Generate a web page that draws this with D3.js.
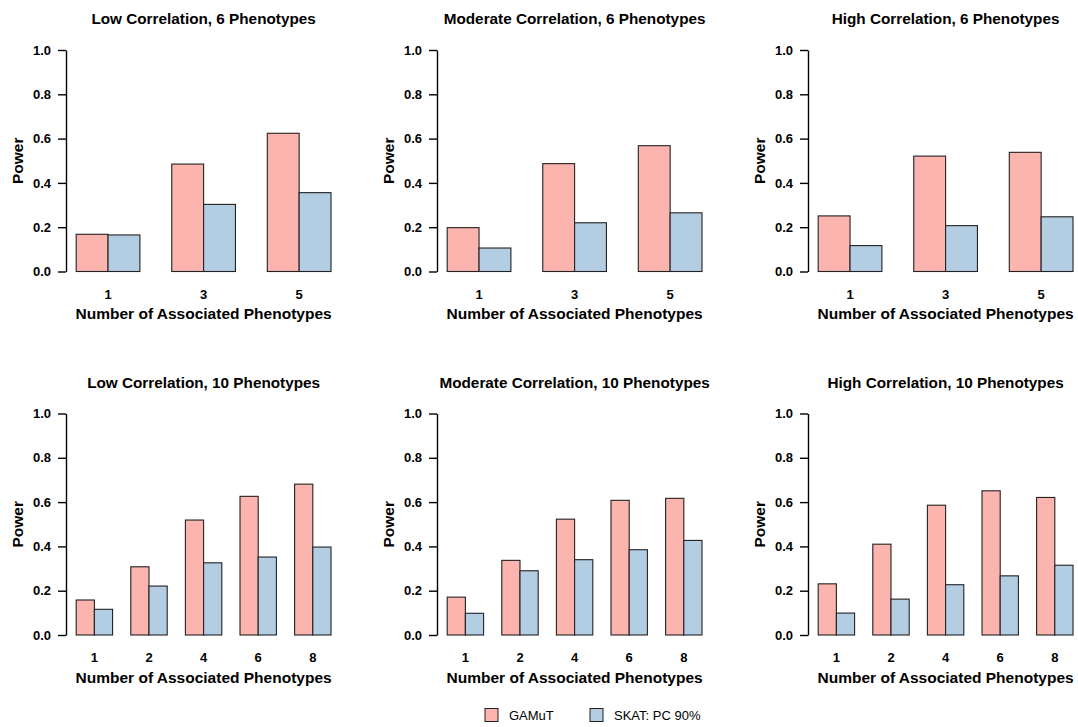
<!DOCTYPE html>
<html>
<head>
<meta charset="utf-8">
<script src="https://cdn.jsdelivr.net/npm/d3@7"></script>
<style>
  html, body { margin: 0; padding: 0; background: #fff; }
  svg { display: block; }
  text { font-family: "Liberation Sans", Arial, Helvetica, sans-serif; fill: #000; }
</style>
</head>
<body>
<svg id="chart" width="1078" height="727"></svg>
<script>
// Number of associated phenotypes on each x axis
const categories6 = ["1", "3", "5"];
const categories10 = ["1", "2", "4", "6", "8"];

// Test methods compared in every panel
const methods = ["GAMuT", "SKAT: PC 90%"];
const methodColors = ["#FBB4AE", "#B3CDE3"];

// Power tick labels on the y axis
const powerTicks = [0, 0.2, 0.4, 0.6, 0.8, 1.0];

// Panel titles, row by row
const titles = [
  "Low Correlation, 6 Phenotypes",
  "Moderate Correlation, 6 Phenotypes",
  "High Correlation, 6 Phenotypes",
  "Low Correlation, 10 Phenotypes",
  "Moderate Correlation, 10 Phenotypes",
  "High Correlation, 10 Phenotypes"
];

// Estimated power, 6 phenotypes
const gamutLow6 = [0.168, 0.485, 0.624];
const skatLow6 = [0.165, 0.303, 0.356];
const gamutMod6 = [0.198, 0.487, 0.568];
const skatMod6 = [0.106, 0.220, 0.265];
const gamutHigh6 = [0.251, 0.521, 0.538];
const skatHigh6 = [0.117, 0.207, 0.247];

// Estimated power, 10 phenotypes
const gamutLow10 = [0.158, 0.308, 0.519, 0.626, 0.681];
const skatLow10 = [0.116, 0.221, 0.326, 0.352, 0.397];
const gamutMod10 = [0.171, 0.337, 0.523, 0.608, 0.617];
const skatMod10 = [0.098, 0.290, 0.340, 0.385, 0.427];
const gamutHigh10 = [0.231, 0.410, 0.586, 0.651, 0.621];
const skatHigh10 = [0.099, 0.162, 0.227, 0.267, 0.315];

const panels = [
  { title: titles[0], cats: categories6, series: [gamutLow6, skatLow6] },
  { title: titles[1], cats: categories6, series: [gamutMod6, skatMod6] },
  { title: titles[2], cats: categories6, series: [gamutHigh6, skatHigh6] },
  { title: titles[3], cats: categories10, series: [gamutLow10, skatLow10] },
  { title: titles[4], cats: categories10, series: [gamutMod10, skatMod10] },
  { title: titles[5], cats: categories10, series: [gamutHigh10, skatHigh10] }
];

// Panel grid geometry
const colLeft = [66, 437, 808];    // x of each y-axis line
const rowZero = [271.5, 635];      // y of power = 0
const plotW = 275.2;
const plotH = 221.5;               // pixels from 0 to 1
const inset = plotW / 27;          // 4% axis extension either side

const FONT = "'Liberation Sans', Arial, Helvetica, sans-serif";
const svg = d3.select("#chart");

panels.forEach((p, i) => {
  const col = i % 3, row = Math.floor(i / 3);
  const x0 = colLeft[col];
  const yZero = rowZero[row];

  const y = d3.scaleLinear().domain([0, 1]).range([yZero, yZero - plotH]);
  const xGroup = d3.scaleBand()
    .domain(p.cats)
    .range([x0 + inset, x0 + plotW - inset])
    .paddingInner(1 / 3)
    .paddingOuter(0);
  const xSeries = d3.scaleBand()
    .domain(d3.range(methods.length))
    .range([0, xGroup.bandwidth()])
    .padding(0);

  const g = svg.append("g");

  // bars
  p.cats.forEach((c, ci) => {
    p.series.forEach((vals, si) => {
      g.append("rect")
        .attr("x", xGroup(c) + xSeries(si))
        .attr("y", y(vals[ci]))
        .attr("width", xSeries.bandwidth())
        .attr("height", y(0) - y(vals[ci]))
        .attr("fill", methodColors[si])
        .attr("stroke", "#222")
        .attr("stroke-width", 1.1);
    });
  });

  // y axis
  const yAxis = d3.axisLeft(y)
    .tickValues(powerTicks)
    .tickFormat(d3.format(".1f"))
    .tickSize(8)
    .tickPadding(7)
    .tickSizeOuter(0);
  const ya = g.append("g").attr("transform", `translate(${x0},0)`).call(yAxis);
  ya.select(".domain").attr("stroke", "#000").attr("stroke-width", 1.4);
  ya.selectAll(".tick line").attr("stroke", "#000").attr("stroke-width", 1.4);
  ya.selectAll(".tick text")
    .attr("font-size", 13)
    .attr("font-weight", "bold")
    .attr("font-family", FONT)
    .attr("fill", "#000");

  // x axis: labels only, centred on each group
  const xAxis = d3.axisBottom(xGroup).tickSize(0).tickPadding(0);
  const xa = g.append("g").attr("transform", `translate(0,${yZero + 18})`).call(xAxis);
  xa.select(".domain").remove();
  xa.selectAll(".tick text")
    .attr("font-size", 13)
    .attr("font-weight", "bold")
    .attr("font-family", FONT)
    .attr("fill", "#000");

  const cx = x0 + plotW / 2;

  // panel title
  g.append("text")
    .attr("x", cx)
    .attr("y", yZero - plotH - 26)
    .attr("text-anchor", "middle")
    .attr("font-size", 15.3)
    .attr("font-weight", "bold")
    .text(p.title);

  // x axis title
  g.append("text")
    .attr("x", cx)
    .attr("y", yZero + 47.5)
    .attr("text-anchor", "middle")
    .attr("font-size", 15.5)
    .attr("font-weight", "bold")
    .text("Number of Associated Phenotypes");

  // y axis title
  g.append("text")
    .attr("transform", `translate(${x0 - 43},${yZero - plotH / 2}) rotate(-90)`)
    .attr("text-anchor", "middle")
    .attr("font-size", 15.5)
    .attr("font-weight", "bold")
    .text("Power");
});

// legend
const legendX = [485, 590];
const legend = svg.append("g");
methods.forEach((m, i) => {
  legend.append("rect")
    .attr("x", legendX[i])
    .attr("y", 708.5)
    .attr("width", 13)
    .attr("height", 13)
    .attr("fill", methodColors[i])
    .attr("stroke", "#222")
    .attr("stroke-width", 1);
  legend.append("text")
    .attr("x", legendX[i] + 24)
    .attr("y", 719.5)
    .attr("font-size", 13)
    .text(m);
});
</script>
</body>
</html>
